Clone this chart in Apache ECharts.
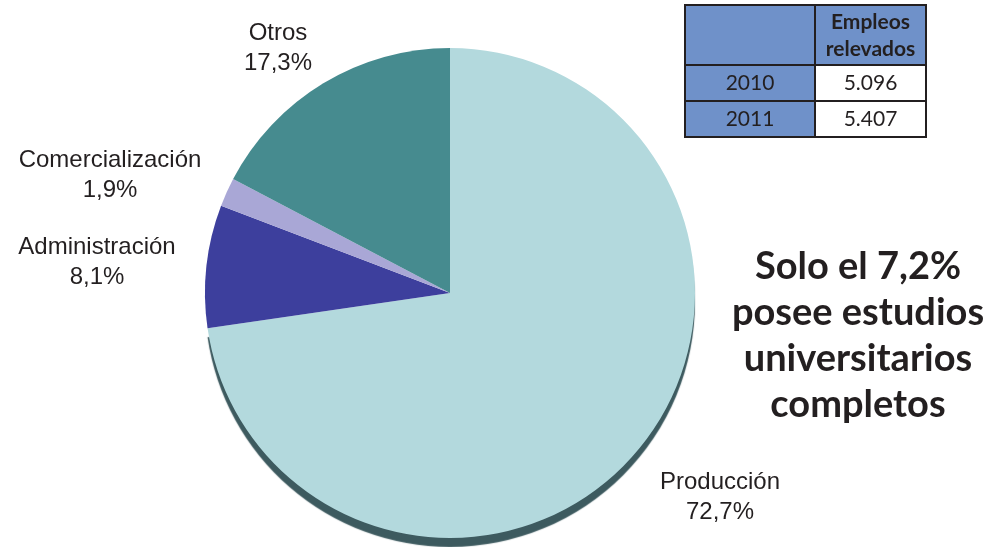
<!DOCTYPE html>
<html><head><meta charset="utf-8">
<script src="https://cdn.jsdelivr.net/npm/echarts@6/dist/echarts.min.js"></script>
<style>html,body{margin:0;padding:0;background:#fff}#c{width:996px;height:547px}</style>
</head><body><div id="c"></div>
<script>
const categories = ['Producción', 'Administración', 'Comercialización', 'Otros'];
const shares = [72.7, 8.1, 1.9, 17.3];
const sliceColors = ['#b3d9dd', '#3d3f9d', '#a9a7d6', '#468b8f'];
const tableHeader = ['', 'Empleos\nrelevados'];
const tableYears = ['2010', '2011'];
const tableValues = ['5.096', '5.407'];
const noteLines = ['Solo el 7,2%', 'posee estudios', 'universitarios', 'completos'];

const labelPos = [[720, 497], [97, 262], [110, 175], [278, 48]];

const chart = echarts.init(document.getElementById('c'));

const tbl = [];
const tx0 = 685, tx1 = 815, tx2 = 926;
const rowY = [5, 65, 101, 137];
const border = '#231f20';
const blue = '#6f91c9';
for (let r = 0; r < 3; r++) {
  tbl.push({type:'rect', shape:{x:tx0, y:rowY[r], width:tx1-tx0, height:rowY[r+1]-rowY[r]}, style:{fill:blue, stroke:border, lineWidth:2}});
  tbl.push({type:'rect', shape:{x:tx1, y:rowY[r], width:tx2-tx1, height:rowY[r+1]-rowY[r]}, style:{fill:r===0?blue:'#ffffff', stroke:border, lineWidth:2}});
}
tbl.push({type:'text', x:(tx1+tx2)/2, y:(rowY[0]+rowY[1])/2 + 1, style:{text:tableHeader[1], fontFamily:'Lato', fontWeight:'bold', fontSize:21, lineHeight:27, fill:border, align:'center', verticalAlign:'middle'}});
for (let i = 0; i < tableYears.length; i++) {
  const cy = (rowY[i+1]+rowY[i+2])/2;
  tbl.push({type:'text', x:(tx0+tx1)/2, y:cy, style:{text:tableYears[i], fontFamily:'Lato', fontSize:21, fill:border, align:'center', verticalAlign:'middle'}});
  tbl.push({type:'text', x:(tx1+tx2)/2, y:cy, style:{text:tableValues[i], fontFamily:'Lato', fontSize:21, fill:border, align:'center', verticalAlign:'middle'}});
}
tbl.push({type:'text', x:858, y:336, style:{text:noteLines.join('\n'), fontFamily:'Lato', fontWeight:'bold', fontSize:38, lineHeight:46, fill:'#231f20', align:'center', verticalAlign:'middle'}});

chart.setOption({
  animation: false,
  graphic: tbl,
  series: [{
    type: 'pie',
    center: [450, 293],
    radius: 245,
    startAngle: 90,
    clockwise: true,
    silent: true,
    emphasis: {disabled: true},
    labelLine: {show: false},
    label: {
      show: true,
      position: 'outside',
      overflow: 'none',
      formatter: p => p.name + '\n' + p.value.toFixed(1).replace('.', ',') + '%',
      fontFamily: 'Liberation Sans',
      fontSize: 24,
      lineHeight: 30,
      color: '#231f20',
      align: 'center'
    },
    labelLayout: p => ({x: labelPos[p.dataIndex][0], y: labelPos[p.dataIndex][1], align: 'center', verticalAlign: 'middle', width: 300}),
    data: categories.map((c, i) => ({
      name: c, value: shares[i],
      itemStyle: i === 0
        ? {color: sliceColors[i], shadowColor: '#3d5a5f', shadowBlur: 1, shadowOffsetY: 9}
        : {color: sliceColors[i]}
    }))
  }]
});
</script></body></html>
